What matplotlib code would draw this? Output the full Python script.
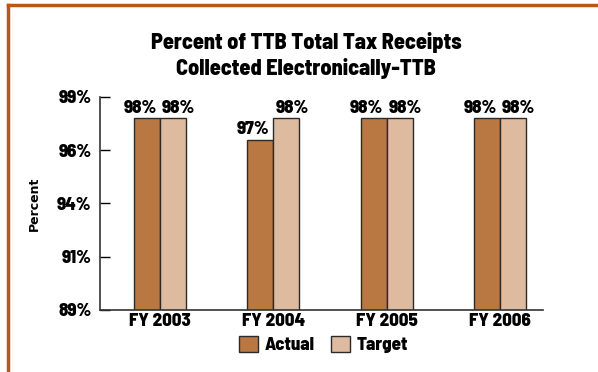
import numpy as np
import matplotlib
matplotlib.use('Agg')
import matplotlib.pyplot as plt
from matplotlib.lines import Line2D

# data
years = ['FY 2003', 'FY 2004', 'FY 2005', 'FY 2006']
actual = [98, 97, 98, 98]
target = [98, 98, 98, 98]
tick_vals = [89, 91.5, 94, 96.5, 99]
tick_labels = ['89%', '91%', '94%', '96%', '99%']

plt.rcParams['font.family'] = ['Barlow Semi Condensed', 'DejaVu Sans']
plt.rcParams['font.weight'] = 800

actual_col = '#b97842'
target_col = '#debb9f'
frame_col = '#b5591f'
fs = 13.5

fig = plt.figure(figsize=(5.98, 3.72), dpi=100)
ax = fig.add_axes([100/598, 1-310/372, 443/598, 213/372])

x = np.arange(len(years))
w = 0.23
ax.bar(x - w/2, actual, w, bottom=0, color=actual_col, edgecolor='#2a2a2a', linewidth=1, label='Actual')
ax.bar(x + w/2, target, w, bottom=0, color=target_col, edgecolor='#2a2a2a', linewidth=1, label='Target')

# value labels sit a little outward from each bar centre
for i in range(len(years)):
    ax.text(x[i] - w/2 - 0.06, actual[i] + 0.12, str(actual[i]) + '%', ha='center', va='bottom', fontsize=fs, fontweight=800)
    ax.text(x[i] + w/2 + 0.05, target[i] + 0.12, str(target[i]) + '%', ha='center', va='bottom', fontsize=fs, fontweight=800)

ax.set_ylim(89, 99)
ax.set_xlim(-0.53, 3.38)
ax.set_yticks(tick_vals)
ax.set_yticklabels(tick_labels, fontsize=fs, fontweight=800)
ax.set_xticks(x)
ax.set_xticklabels(years, fontsize=fs, fontweight=800)
ax.tick_params(axis='y', direction='in', length=7, width=1, pad=6)
ax.tick_params(axis='x', length=0, pad=2)
for s in ['top', 'right']:
    ax.spines[s].set_visible(False)
for s in ['left', 'bottom']:
    ax.spines[s].set_color('#333333')
    ax.spines[s].set_linewidth(1.2)

ylab = ax.set_ylabel('Percent', labelpad=12)
ylab.set_fontproperties({'family': 'DejaVu Sans', 'weight': 'bold', 'size': 9})

fig.text(0.512, 0.852, 'Percent of TTB Total Tax Receipts\nCollected Electronically-TTB',
         ha='center', va='center', fontsize=16, fontweight=800, linespacing=1.3)

ax.legend(loc='upper center', bbox_to_anchor=(0.505, -0.085), ncol=2, frameon=False,
          prop={'size': fs, 'weight': 800}, handlelength=1.0, handleheight=1.0,
          columnspacing=0.9, handletextpad=0.35, borderaxespad=0)

# orange frame on top and left edges
fig.add_artist(Line2D([8/598, 1], [1-5/372, 1-5/372], color=frame_col, linewidth=2.5))
fig.add_artist(Line2D([8/598, 8/598], [0, 1-5/372], color=frame_col, linewidth=2.5))

plt.savefig('out.png', dpi=100)
